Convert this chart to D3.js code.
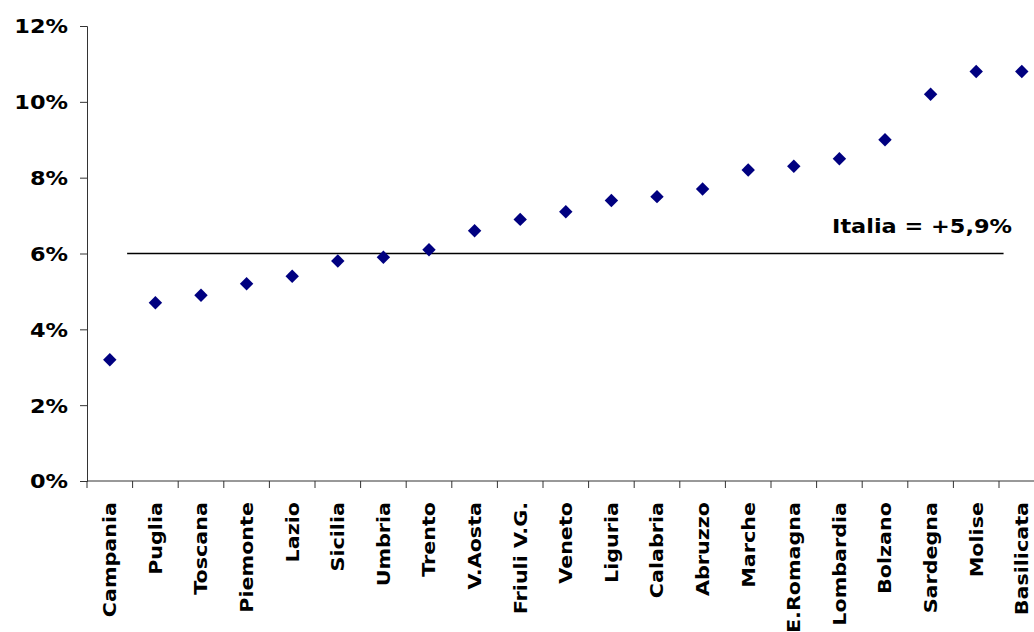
<!DOCTYPE html>
<html>
<head>
<meta charset="utf-8">
<script src="https://cdn.jsdelivr.net/npm/d3@7"></script>
<style>
  body { margin: 0; background: #fff; }
  svg { display: block; }
  text { font-family: "DejaVu Sans", Verdana, sans-serif; font-weight: bold; fill: #000; }
</style>
</head>
<body>
<svg id="chart" width="1034" height="632"></svg>
<script>
// regioni in ordine crescente
var regioni = ["Campania", "Puglia", "Toscana", "Piemonte", "Lazio", "Sicilia", "Umbria",
  "Trento", "V.Aosta", "Friuli V.G.", "Veneto", "Liguria", "Calabria", "Abruzzo",
  "Marche", "E.Romagna", "Lombardia", "Bolzano", "Sardegna", "Molise", "Basilicata"];

// variazione percentuale
var valori = [3.2, 4.7, 4.9, 5.2, 5.4, 5.8, 5.9, 6.1, 6.6, 6.9, 7.1, 7.4, 7.5, 7.7,
  8.2, 8.3, 8.5, 9.0, 10.2, 10.8, 10.8];

var yTicks = [0, 2, 4, 6, 8, 10, 12];

// linea media Italia
var italiaLinea = 6.0;
var italiaLabel = "Italia = +5,9%";

var svg = d3.select("#chart");

var mLeft = 87, mTop = 26, mBottom = 481;
var step = 45.6;
var mRight = mLeft + step * regioni.length;
var stretch = 1.18; // il font originale e' piu' largo

// scala x per le categorie
var x = d3.scaleBand()
  .domain(regioni)
  .range([mLeft, mRight]);

var y = d3.scaleLinear()
  .domain([0, 12])
  .range([mBottom, mTop]);

// asse y
var yAxis = d3.axisLeft(y)
  .tickValues(yTicks)
  .tickSize(7)
  .tickPadding(12)
  .tickFormat(function(d){ return d + "%"; });

var gy = svg.append("g")
  .attr("transform", "translate(" + mLeft + ",0)")
  .call(yAxis);
gy.selectAll("text")
  .style("font-size", "19px")
  .attr("x", -19 / stretch)
  .attr("dy", "0.36em")
  .attr("transform", "scale(" + stretch + ",1)");
gy.selectAll("line, path").attr("stroke", "#333");

// asse x, ticks ai bordi delle categorie
var gx = svg.append("g")
  .attr("transform", "translate(0," + mBottom + ")");
gx.append("line")
  .attr("x1", mLeft).attr("x2", mRight)
  .attr("stroke", "#333");
gx.selectAll("line.tick")
  .data(regioni)
  .enter()
  .append("line")
  .attr("class", "tick")
  .attr("x1", function(d){ return x(d); })
  .attr("x2", function(d){ return x(d); })
  .attr("y1", 0).attr("y2", 7)
  .attr("stroke", "#333");
gx.selectAll("text")
  .data(regioni)
  .enter()
  .append("text")
  .attr("transform", function(d){
    return "translate(" + (x(d) + x.bandwidth() / 2) + ",21) rotate(-90) scale(1.15,1)";
  })
  .attr("text-anchor", "end")
  .attr("dy", "0.36em")
  .style("font-size", "18px")
  .text(function(d){ return d; });

// linea Italia
var xi = d3.scaleLinear().domain([-0.5, regioni.length - 0.5]).range([mLeft, mRight]);
svg.append("line")
  .attr("x1", xi(0.38))
  .attr("x2", xi(19.6))
  .attr("y1", y(italiaLinea))
  .attr("y2", y(italiaLinea))
  .attr("stroke", "#000")
  .attr("stroke-width", 1.5);

svg.append("text")
  .attr("transform", "translate(1012," + (y(italiaLinea) - 21) + ") scale(" + stretch + ",1)")
  .attr("text-anchor", "end")
  .style("font-size", "19px")
  .text(italiaLabel);

// punti
svg.selectAll("path.punto")
  .data(valori)
  .enter()
  .append("path")
  .attr("class", "punto")
  .attr("d", d3.symbol().type(d3.symbolDiamond2).size(115))
  .attr("transform", function(d, i){
    return "translate(" + (x(regioni[i]) + x.bandwidth() / 2) + "," + y(d) + ")";
  })
  .attr("fill", "#000080");
</script>
</body>
</html>
